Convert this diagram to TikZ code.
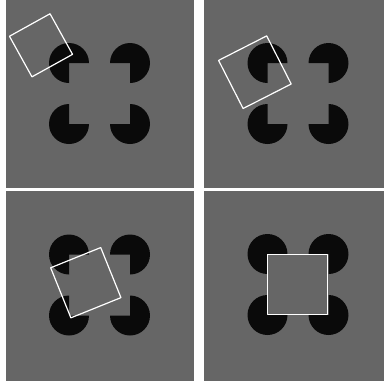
\documentclass[tikz,border=0pt]{standalone}
\usepackage{tikz}
\definecolor{fond}{RGB}{102,102,102}
\definecolor{inducer}{RGB}{10,10,10}
\tikzset{
  panel/.style={fill=fond, draw=none},
  pac/.style={fill=inducer, draw=none},
  contour/.style={draw=white, line width=1.2pt, line join=round},
}
% four inducers around a centre (x, y)
\newcommand{\kanizsa}[2]{%
  \begin{scope}[shift={(#1,#2)}]
    \foreach \dx/\dy/\m in {-30.5/-30.5/0, 30.5/-30.5/90, 30.5/30.5/180, -30.5/30.5/270}
      \fill[pac] (\dx,\dy) -- ++(\m+90:20)
        arc[start angle=\m+90, end angle=\m+360, radius=20] -- cycle;
  \end{scope}}
% outline square: centre, rotation, half side
\newcommand{\contoursq}[4]{%
  \draw[contour, shift={(#1,#2)}, rotate=#3]
    (-#4,-#4) -- (#4,-#4) -- (#4,#4) -- (-#4,#4) -- cycle;}

\begin{document}
\begin{tikzpicture}[x=1pt, y=-1pt]
  \useasboundingbox (0,0) rectangle (384,381);
  \fill[white] (0,0) rectangle (384,381);

  % panels
  \fill[panel] (6,0) rectangle (194,188);
  \fill[panel] (204,0) rectangle (384,188);
  \fill[panel] (6,191) rectangle (194,381);
  \fill[panel] (204,191) rectangle (384,381);

  % inducers
  \kanizsa{99.5}{93.5}
  \kanizsa{298}{93.5}
  \kanizsa{99.5}{285}
  \kanizsa{298}{284.5}

  % moving square
  \contoursq{41}{45.3}{29}{23.2}
  \contoursq{254.9}{72.2}{27}{27}
  \contoursq{85.8}{282.7}{22}{27}
  \contoursq{297.5}{284.5}{0}{30.3}
\end{tikzpicture}
\end{document}
